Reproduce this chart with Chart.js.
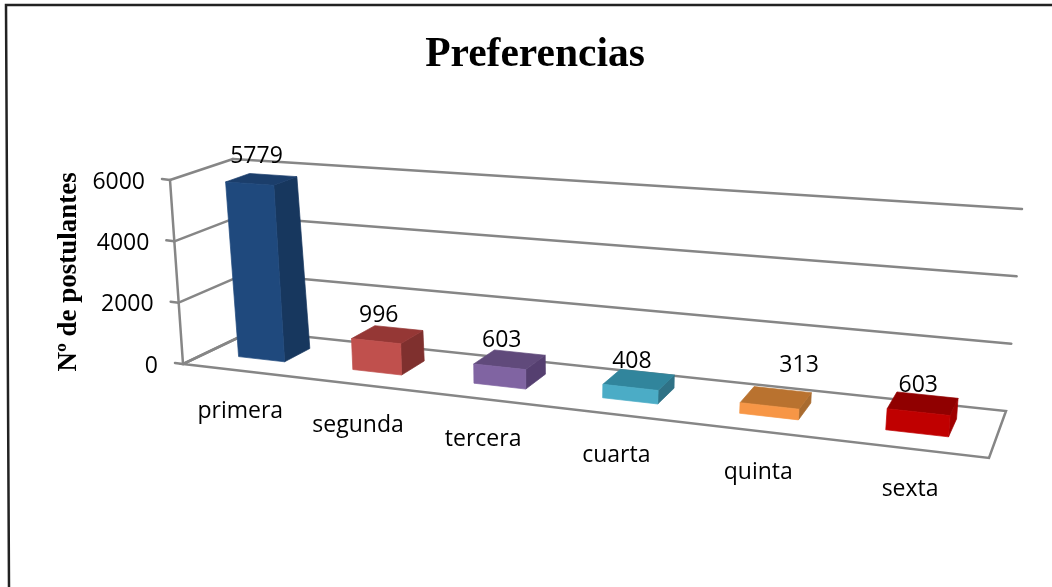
<!DOCTYPE html>
<html><head><meta charset="utf-8">
<style>html,body{margin:0;padding:0;background:#fff}canvas{display:block}</style>
<script src="https://cdn.jsdelivr.net/npm/chart.js@4/dist/chart.umd.js"></script>
</head><body><canvas id="c" width="1052" height="587"></canvas>
<script>
const categories = ['primera','segunda','tercera','cuarta','quinta','sexta'];
const values = [5779,996,603,408,313,603];
const yTicks = [0,2000,4000,6000];
const frontColors = ['#1F497D','#C0504D','#8064A2','#4BACC6','#F79646','#C00000'];
const topColors = ['#1B3E6B','#953735','#604A7B','#31859C','#B9722F','#900000'];
const sideColors = ['#17375E','#7F302E','#553F70','#2F7286','#A96B2F','#A00000'];

// View of the 3-D box: corners of floor and of the 6000 plane (front-left, front-right, back-right, back-left)
const floorQuad = [[183,364],[989,458],[1006,411],[252,331]];
const topQuad = [[170,180],[1007,238],[1022,209],[233,159]];
const depthFront = 0.32, depthBack = 0.71;
const GRID = '#868686', FONT = '"Open Sans"', TXT = '#000';

function homography(q){
  const [[x0,y0],[x1,y1],[x2,y2],[x3,y3]] = q;
  const sx=x0-x1+x2-x3, sy=y0-y1+y2-y3, dx1=x1-x2, dx2=x3-x2, dy1=y1-y2, dy2=y3-y2;
  const det=dx1*dy2-dx2*dy1;
  const g=(sx*dy2-dx2*sy)/det, h=(dx1*sy-sx*dy1)/det;
  const a=x1-x0+g*x1, b=x3-x0+h*x3, d=y1-y0+g*y1, e=y3-y0+h*y3;
  return (u,v)=>{const D=g*u+h*v+1;return [(a*u+b*v+x0)/D,(d*u+e*v+y0)/D];};
}
const floorH = homography(floorQuad), topH = homography(topQuad);
function proj(u,t,v){
  const f=floorH(u,v), p=topH(u,v);
  return [f[0]+(p[0]-f[0])*t, f[1]+(p[1]-f[1])*t];
}
function poly(ctx,pts,fill){
  ctx.beginPath();pts.forEach((p,i)=>i?ctx.lineTo(p[0],p[1]):ctx.moveTo(p[0],p[1]));ctx.closePath();
  ctx.fillStyle=fill;ctx.fill();
  ctx.strokeStyle=fill;ctx.lineWidth=0.7;ctx.stroke();
}
function line(ctx,a,b){ctx.beginPath();ctx.moveTo(a[0],a[1]);ctx.lineTo(b[0],b[1]);ctx.stroke();}
const fracY=(s,val)=>(s.bottom-s.getPixelForValue(val))/(s.bottom-s.top);
const fracX=(s,px)=>(px-s.left)/(s.right-s.left);

const box3d = {
  id:'box3d',
  beforeDatasetsDraw(chart){
    const ctx=chart.ctx, X=chart.scales.x, Y=chart.scales.y;
    ctx.save();
    // page frame
    ctx.strokeStyle='#222';ctx.lineWidth=2.5;
    ctx.beginPath();ctx.moveTo(1052,5);ctx.lineTo(6,5);ctx.lineTo(9,587);ctx.stroke();
    // walls and floor
    ctx.strokeStyle=GRID;ctx.lineWidth=2.5;ctx.lineCap='round';
    ctx.beginPath();
    [[0,0],[1,0],[1,1],[0,1]].forEach((c,i)=>{const p=floorH(c[0],c[1]);i?ctx.lineTo(p[0],p[1]):ctx.moveTo(p[0],p[1]);});
    ctx.closePath();ctx.stroke();
    line(ctx,proj(0,0,0),proj(0,1,0));
    ctx.font='23px '+FONT;ctx.fillStyle=TXT;ctx.textAlign='right';ctx.textBaseline='middle';
    Y.ticks.forEach(tk=>{
      const t=fracY(Y,tk.value), fl=proj(0,t,0), bl=proj(0,t,1), br=proj(1,t,1);
      line(ctx,fl,bl);
      if(t>0) line(ctx,bl,br);
      line(ctx,[fl[0]-8,fl[1]-1],fl);
      ctx.fillText(String(tk.value),fl[0]-25,fl[1]+2);
    });
    // category labels
    ctx.textAlign='center';
    X.ticks.forEach((tk,i)=>{
      const u=fracX(X,X.getPixelForTick(i)), p=floorH(u,0);
      ctx.fillText(categories[tk.value],p[0]+1,p[1]+41);
    });
    ctx.restore();
  },
  beforeDatasetDraw(chart,args){
    const ctx=chart.ctx, X=chart.scales.x, Y=chart.scales.y;
    ctx.save();
    args.meta.data.forEach((el,i)=>{
      const u0=fracX(X,el.x-el.width/2), u1=fracX(X,el.x+el.width/2);
      const t=fracY(Y,values[i]), a=depthFront, b=depthBack;
      poly(ctx,[proj(u1,0,a),proj(u1,0,b),proj(u1,t,b),proj(u1,t,a)],sideColors[i]);
      poly(ctx,[proj(u0,t,a),proj(u1,t,a),proj(u1,t,b),proj(u0,t,b)],topColors[i]);
      poly(ctx,[proj(u0,0,a),proj(u1,0,a),proj(u1,t,a),proj(u0,t,a)],el.options.backgroundColor);
    });
    ctx.restore();
    return false;
  },
  afterDatasetsDraw(chart){
    const ctx=chart.ctx, X=chart.scales.x, Y=chart.scales.y;
    const meta=chart.getDatasetMeta(0);
    ctx.save();
    ctx.font='23px '+FONT;ctx.fillStyle=TXT;ctx.textAlign='center';ctx.textBaseline='middle';
    meta.data.forEach((el,i)=>{
      const u=fracX(X,el.x), p=proj(u,fracY(Y,values[i]),0.4);
      const nudge = i===0 ? [2,-2] : i===4 ? [27,-14] : [-2,0];
      ctx.fillText(String(values[i]),p[0]+nudge[0],p[1]-23+nudge[1]);
    });
    ctx.restore();
  }
};

new Chart(document.getElementById('c'),{
  type:'bar',
  data:{labels:categories,datasets:[{label:'Nº de postulantes',data:values,backgroundColor:frontColors,barPercentage:0.41,categoryPercentage:1}]},
  plugins:[box3d],
  options:{
    responsive:false,animation:false,
    layout:{padding:{left:18,right:0,top:0,bottom:223}},
    plugins:{
      legend:{display:false},tooltip:{enabled:false},
      title:{display:true,text:'Preferencias',color:'#000',font:{family:'"Liberation Serif"',size:41.5,weight:'bold'},padding:{top:30,bottom:100}}
    },
    scales:{
      x:{display:false,grid:{display:false}},
      y:{min:0,max:6000,ticks:{display:false,stepSize:2000},grid:{display:false},border:{display:false},
         title:{display:true,text:'Nº de postulantes',color:'#000',font:{family:'"Liberation Serif"',size:27,weight:'bold'},padding:{top:35,bottom:0}}}
    }
  }
});
</script></body></html>
